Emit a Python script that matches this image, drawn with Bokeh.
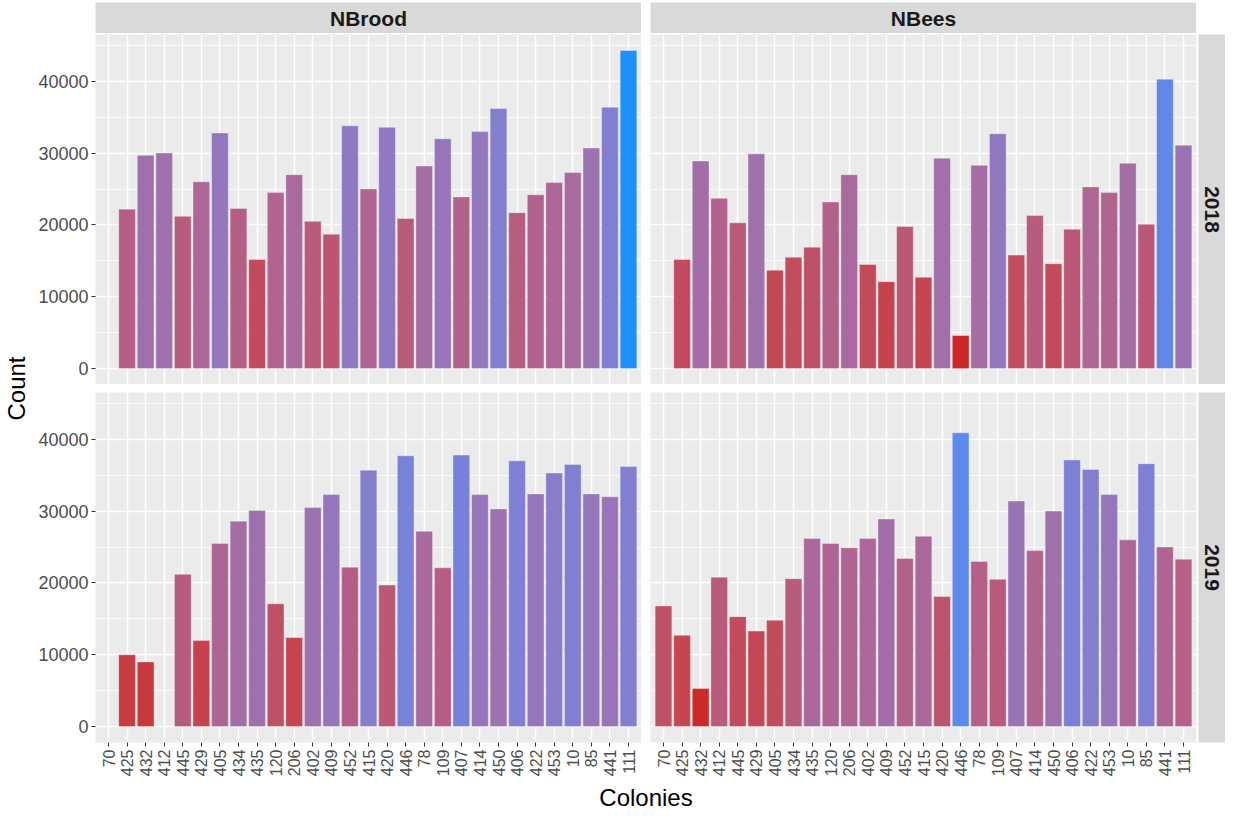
import math
from bokeh.plotting import figure
from bokeh.models import (FactorRange, Range1d, SingleIntervalTicker, Label,
                          ColumnDataSource, LinearColorMapper)
from bokeh.layouts import row, column
from bokeh.embed import file_html
from bokeh.resources import INLINE

# ---------------- data ----------------
colonies = ["70", "425", "432", "412", "445", "429", "405", "434", "435", "120",
            "206", "402", "409", "452", "415", "420", "446", "78", "109", "407",
            "414", "450", "406", "422", "453", "10", "85", "441", "111"]

nbrood_2018 = [None, 22200, 29700, 30000, 21200, 26000, 32800, 22300, 15200, 24500,
               27000, 20500, 18700, 33800, 25000, 33600, 20900, 28200, 32000, 23900,
               33000, 36200, 21700, 24200, 25900, 27300, 30700, 36400, 44300]

nbees_2018 = [None, 15200, 28900, 23700, 20300, 29900, 13700, 15500, 16900, 23200,
              27000, 14500, 12100, 19800, 12700, 29300, 4600, 28300, 32700, 15800,
              21300, 14600, 19400, 25300, 24500, 28600, 20100, 40300, 31100]

nbrood_2019 = [None, 10000, 9000, None, 21200, 12000, 25500, 28600, 30100, 17100,
               12400, 30500, 32300, 22200, 35700, 19700, 37700, 27200, 22100, 37800,
               32300, 30300, 37000, 32400, 35300, 36500, 32400, 32000, 36200]

nbees_2019 = [16800, 12700, 5300, 20800, 15300, 13300, 14800, 20600, 26200, 25500,
              24900, 26200, 28900, 23400, 26500, 18100, 40900, 23000, 20500, 31400,
              24500, 30000, 37100, 35800, 32300, 26000, 36600, 25000, 23300]

facet_cols = ["NBrood", "NBees"]
facet_rows = ["2018", "2019"]
y_ticks_interval = 10000

# ---------------- colour scale (Lab interpolation firebrick3 -> dodgerblue) ----------------
LOW = (205, 38, 38)
HIGH = (30, 144, 255)


def _lin(c):
    c = c / 255.0
    return c / 12.92 if c <= 0.04045 else ((c + 0.055) / 1.055) ** 2.4


def _unlin(c):
    c = 12.92 * c if c <= 0.0031308 else 1.055 * c ** (1 / 2.4) - 0.055
    return max(0, min(255, round(c * 255)))


WN = (0.95047, 1.0, 1.08883)


def _f(t):
    d = 6 / 29
    return t ** (1 / 3) if t > d ** 3 else t / (3 * d * d) + 4 / 29


def _finv(t):
    d = 6 / 29
    return t ** 3 if t > d else 3 * d * d * (t - 4 / 29)


def rgb2lab(rgb):
    r, g, b = (_lin(v) for v in rgb)
    X = 0.4124 * r + 0.3576 * g + 0.1805 * b
    Y = 0.2126 * r + 0.7152 * g + 0.0722 * b
    Z = 0.0193 * r + 0.1192 * g + 0.9505 * b
    fx, fy, fz = _f(X / WN[0]), _f(Y / WN[1]), _f(Z / WN[2])
    return (116 * fy - 16, 500 * (fx - fy), 200 * (fy - fz))


def lab2hex(lab):
    L, a, b = lab
    fy = (L + 16) / 116
    fx = fy + a / 500
    fz = fy - b / 200
    X, Y, Z = WN[0] * _finv(fx), WN[1] * _finv(fy), WN[2] * _finv(fz)
    r = 3.2406 * X - 1.5372 * Y - 0.4986 * Z
    g = -0.9689 * X + 1.8758 * Y + 0.0415 * Z
    bb = 0.0557 * X - 0.2040 * Y + 1.0570 * Z
    r, g, bb = (max(0.0, min(1.0, v)) for v in (r, g, bb))
    return "#%02x%02x%02x" % (_unlin(r), _unlin(g), _unlin(bb))


la, lb = rgb2lab(LOW), rgb2lab(HIGH)
palette = [lab2hex(tuple(la[k] + (lb[k] - la[k]) * i / 255 for k in range(3))) for i in range(256)]

all_vals = [v for s in (nbrood_2018, nbees_2018, nbrood_2019, nbees_2019) for v in s if v is not None]
vmin, vmax = min(all_vals), max(all_vals)
mapper = LinearColorMapper(palette=palette, low=vmin, high=vmax)

ylo, yhi = -0.05 * vmax, 1.05 * vmax

FONT = "Liberation Sans"
FW, FH = 546, 350
LEFTB = 62
GAP = 9
BOTB = 40
STRIP_BG = "#D9D9D9"


def panel(vals, left_axis, bottom_axis):
    src = ColumnDataSource(dict(
        col=[c for c, v in zip(colonies, vals) if v is not None],
        val=[v for v in vals if v is not None]))
    p = figure(x_range=FactorRange(factors=colonies, range_padding=0.2, range_padding_units="absolute"),
               y_range=Range1d(ylo, yhi), frame_width=FW, frame_height=FH,
               min_border_left=LEFTB if left_axis else GAP, min_border_right=0 if left_axis else 2,
               min_border_top=0, min_border_bottom=BOTB if bottom_axis else 0,
               output_backend="svg", toolbar_location=None, title=None,
               background_fill_color="#EBEBEB", border_fill_color="white", outline_line_color=None)
    p.vbar(x="col", top="val", bottom=0, width=0.9, source=src,
           fill_color={"field": "val", "transform": mapper},
           line_color="white", line_alpha=0.35, line_width=1)
    ticker = SingleIntervalTicker(interval=y_ticks_interval, num_minor_ticks=2)
    p.yaxis.ticker = ticker
    p.ygrid.ticker = ticker
    p.xgrid.grid_line_color = "white"
    p.xgrid.grid_line_width = 1.5
    p.ygrid.grid_line_color = "white"
    p.ygrid.grid_line_width = 1.5
    p.ygrid.minor_grid_line_color = "white"
    p.ygrid.minor_grid_line_width = 0.8
    for ax in (p.xaxis[0], p.yaxis[0]):
        ax.axis_line_color = None
        ax.major_tick_line_color = "#333333"
        ax.major_tick_out = 4
        ax.major_tick_in = 0
        ax.minor_tick_line_color = None
        ax.major_label_text_color = "#4D4D4D"
        ax.major_label_text_font = FONT
        ax.major_label_standoff = 3
    p.yaxis.major_label_text_font_size = "18px"
    p.xaxis.major_label_text_font_size = "16px"
    p.xaxis.major_label_orientation = math.pi / 2
    p.yaxis.visible = left_axis
    p.xaxis.visible = bottom_axis
    return p


def strip_top(text, left):
    p = figure(x_range=Range1d(0, 1), y_range=Range1d(0, 1), frame_width=FW, frame_height=31,
               min_border_left=LEFTB if left else GAP, min_border_right=0, min_border_top=0,
               min_border_bottom=0, output_backend="svg", toolbar_location=None, title=None,
               background_fill_color=STRIP_BG, border_fill_color="white", outline_line_color=None)
    p.axis.visible = False
    p.grid.visible = False
    p.add_layout(Label(x=0.5, y=0.5, text=text, text_align="center", text_baseline="middle",
                       text_font=FONT, text_font_style="bold", text_font_size="21px",
                       text_color="#1A1A1A"))
    return p


def strip_right(text, bottom):
    p = figure(x_range=Range1d(0, 1), y_range=Range1d(0, 1), frame_width=27, frame_height=FH,
               min_border_left=0, min_border_right=0, min_border_top=0,
               min_border_bottom=BOTB if bottom else 0, output_backend="svg",
               toolbar_location=None, title=None, background_fill_color=STRIP_BG,
               border_fill_color="white", outline_line_color=None)
    p.axis.visible = False
    p.grid.visible = False
    p.add_layout(Label(x=0.5, y=0.5, text=text, angle=-math.pi / 2, text_align="center",
                       text_baseline="middle", text_font=FONT, text_font_style="bold",
                       text_font_size="21px", text_color="#1A1A1A"))
    return p


def blank(w, h):
    p = figure(x_range=Range1d(0, w), y_range=Range1d(0, h), width=w, height=h,
               min_border=0, output_backend="svg", toolbar_location=None, title=None,
               background_fill_color="white", border_fill_color="white", outline_line_color=None)
    p.axis.visible = False
    p.grid.visible = False
    return p


TOTAL_H = 812
count_fig = blank(33, TOTAL_H)
panel_top = 2 + 31 + 1
panel_bot = panel_top + FH + 8 + FH
count_fig.add_layout(Label(x=16, y=TOTAL_H - (panel_top + panel_bot) / 2, text="Count",
                           angle=math.pi / 2, text_align="center", text_baseline="middle",
                           text_font=FONT, text_font_size="24px", text_color="black"))

inner_w = LEFTB + FW + GAP + FW + 2 + 27
COLH = 30
col_fig = blank(inner_w, COLH)
col_fig.add_layout(Label(x=LEFTB + (FW * 2 + GAP) / 2, y=COLH / 2, text="Colonies",
                         text_align="center", text_baseline="middle",
                         text_font=FONT, text_font_size="24px", text_color="black"))

top_gap = blank(inner_w, 2)
mid_gap1 = blank(inner_w, 1)
mid_gap2 = blank(inner_w, 8)

grid = column(
    top_gap,
    row(strip_top(facet_cols[0], True), strip_top(facet_cols[1], False)),
    mid_gap1,
    row(panel(nbrood_2018, True, False), panel(nbees_2018, False, False), strip_right(facet_rows[0], False)),
    mid_gap2,
    row(panel(nbrood_2019, True, True), panel(nbees_2019, False, True), strip_right(facet_rows[1], True)),
    col_fig,
)

layout = row(count_fig, grid)
open("out.html", "w").write(file_html(layout, INLINE))
